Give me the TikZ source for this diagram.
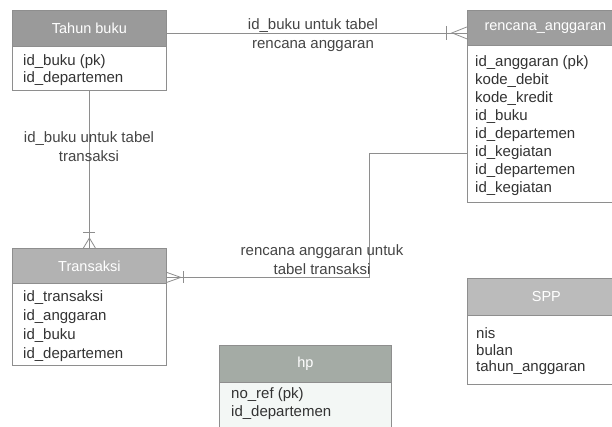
\documentclass[tikz,border=0pt]{standalone}
\usepackage{fontspec}
\setmainfont{Liberation Sans}
\usetikzlibrary{calc}
\definecolor{edgec}{HTML}{8E8E8E}
\definecolor{txtc}{HTML}{333333}
\definecolor{lblc}{HTML}{454545}
\definecolor{hTB}{HTML}{9A9A9A}
\definecolor{hRA}{HTML}{9E9E9E}
\definecolor{hTR}{HTML}{B2B2B2}
\definecolor{hSP}{HTML}{BBBBBB}
\definecolor{hHP}{HTML}{A4ABA5}
\definecolor{bHP}{HTML}{F3F7F5}
\begin{document}
\begin{tikzpicture}[x=1pt,y=-1pt,
  hdr/.style={draw=edgec, line width=0.8pt, inner sep=0pt, anchor=north west, text=white, font=\fontsize{14.5}{16}\selectfont},
  bodybox/.style={draw=edgec, line width=0.8pt, fill=white, inner sep=0pt, anchor=north west},
  field/.style={anchor=west, inner sep=0pt, text=txtc, font=\fontsize{15}{17}\selectfont, text height=10.5pt, text depth=3.2pt},
  lbl/.style={align=center, text=lblc, font=\fontsize{15}{19}\selectfont, inner sep=1pt},
  rel/.style={draw=edgec, line width=0.8pt}]
\clip (0,0) rectangle (612,426);
\fill[white] (0,0) rectangle (612,426);

% Tahun buku
\node[bodybox, minimum width=154pt, minimum height=44pt] (tbb) at (12,46) {};
\node[hdr, fill=hTB, minimum width=154pt, minimum height=36pt] (tbh) at (12,10) {Tahun buku};
\node[field] (tb1) at (23,62) {id\_buku (pk)};
\node[field] (tb2) at (23,79) {id\_departemen};

% rencana_anggaran
\node[bodybox, minimum width=156pt, minimum height=157pt] (rab) at (467,45) {};
\node[hdr, fill=hRA, minimum width=156pt, minimum height=35pt] (rah) at (467,10) {rencana\_anggaran};
\foreach \t [count=\i] in {id\_anggaran (pk),kode\_debit,kode\_kredit,id\_buku,id\_departemen,id\_kegiatan,id\_departemen,id\_kegiatan}
  \node[field] (ra\i) at (475,{63+18*(\i-1)}) {\t};

% Transaksi
\node[bodybox, minimum width=154pt, minimum height=82pt] (trb) at (12,283) {};
\node[hdr, fill=hTR, minimum width=154pt, minimum height=35pt] (trh) at (12,248) {Transaksi};
\foreach \t [count=\i] in {id\_transaksi,id\_anggaran,id\_buku,id\_departemen}
  \node[field] (tr\i) at (23,{298+19*(\i-1)}) {\t};

% SPP
\node[bodybox, minimum width=158pt, minimum height=69pt] (spb) at (467,315) {};
\node[hdr, fill=hSP, minimum width=158pt, minimum height=37pt] (sph) at (467,278) {SPP};
\foreach \t [count=\i] in {nis,bulan,tahun\_anggaran}
  \node[field] (sp\i) at (476,{335+16.5*(\i-1)}) {\t};

% hp
\node[bodybox, fill=bHP, minimum width=172pt, minimum height=52pt] (hpb) at (219,382) {};
\node[hdr, fill=hHP, minimum width=172pt, minimum height=37pt] (hph) at (219,345) {hp};
\node[field] (hp1) at (231,395) {no\_ref (pk)};
\node[field] (hp2) at (231,413) {id\_departemen};

% relation 1: Tahun buku -> rencana_anggaran
\coordinate (c1) at ([yshift=-5pt]rah.west);
\draw[rel] (tbh.east |- c1) -- (c1);
\draw[rel] ($(c1)+(-21,-7)$) -- ++(0,14);
\draw[rel] ($(c1)+(0,-6)$) -- ($(c1)+(-15,0)$) -- ($(c1)+(0,6)$);
\node[lbl] (l1) at (313,35) {id\_buku untuk tabel\\rencana anggaran};

% relation 2: Tahun buku -> Transaksi
\draw[rel] (tbb.south) -- (trh.north);
\draw[rel] ($(trh.north)+(-6,-16)$) -- ++(12,0);
\draw[rel] ($(trh.north)+(-6,0)$) -- ($(trh.north)+(0,-10)$) -- ($(trh.north)+(6,0)$);
\node[lbl] (l2) at (89,147) {id\_buku untuk tabel\\transaksi};

% relation 3: rencana_anggaran -> Transaksi
\coordinate (c3) at ([yshift=-11.5pt]trh.east);
\coordinate (c3b) at (rab.west |- ra6.west);
\coordinate (turn) at (369,0);
\draw[rel] (c3) -- (c3 -| turn) -- (turn |- c3b) -- (c3b);
\draw[rel] ($(c3)+(17,-6)$) -- ++(0,12);
\draw[rel] ($(c3)+(0,-5)$) -- ($(c3)+(14,0)$) -- ($(c3)+(0,5)$);
\node[lbl] (l3) at (322,260) {rencana anggaran untuk\\tabel transaksi};
\end{tikzpicture}
\end{document}
